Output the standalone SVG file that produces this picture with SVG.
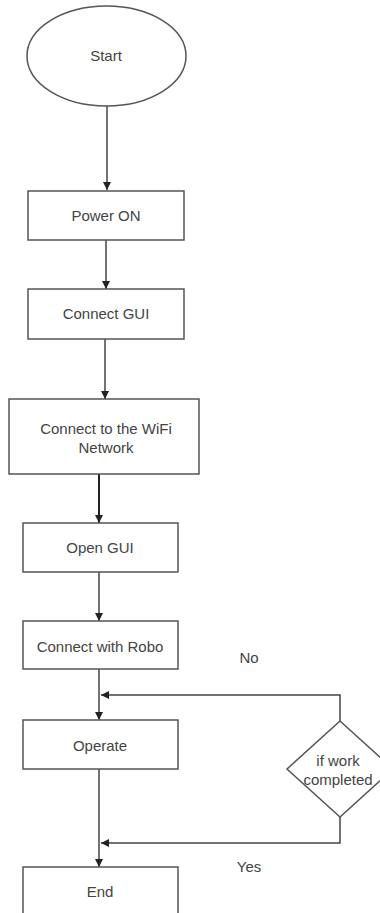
<svg xmlns="http://www.w3.org/2000/svg" width="380" height="913" viewBox="0 0 380 913">
<style>
.n{fill:#fff;stroke:#555;stroke-width:1.5}
.t{font-family:"Liberation Sans",Arial,sans-serif;font-size:15px;fill:#444;text-anchor:middle;dominant-baseline:central}
.c{fill:none;stroke:#444;stroke-width:1.5}
</style>
<defs>
<marker id="a" viewBox="0 0 10 10" refX="10" refY="5" markerWidth="8" markerHeight="8" orient="auto" markerUnits="userSpaceOnUse"><path d="M0,0L10,5L0,10z" fill="#222"/></marker>
</defs>
<rect width="380" height="913" fill="#fff"/>
<g id="connectors">
<path class="c" d="M107,106V190" marker-end="url(#a)"/>
<path class="c" d="M106,240V289" marker-end="url(#a)"/>
<path class="c" d="M105,339V399" marker-end="url(#a)"/>
<path class="c" d="M99,474V523" marker-end="url(#a)" style="stroke:#222;stroke-width:2"/>
<path class="c" d="M99,572V621" marker-end="url(#a)"/>
<path class="c" d="M99,669V720" marker-end="url(#a)"/>
<path class="c" d="M340,721V695H101" marker-end="url(#a)"/>
<path class="c" d="M99,769V867" marker-end="url(#a)"/>
<path class="c" d="M340,817V843H101" marker-end="url(#a)"/>
</g>
<g id="start"><ellipse class="n" cx="106.5" cy="56" rx="79.5" ry="50"/><text class="t" x="106" y="55">Start</text></g>
<g id="power"><rect class="n" x="28" y="191" width="156" height="49"/><text class="t" x="106" y="215">Power ON</text></g>
<g id="gui"><rect class="n" x="28" y="289" width="156" height="50"/><text class="t" x="106" y="313">Connect GUI</text></g>
<g id="wifi"><rect class="n" x="9" y="399" width="190" height="75"/><text class="t" x="106" y="428">Connect to the WiFi</text><text class="t" x="106" y="447">Network</text></g>
<g id="open"><rect class="n" x="23" y="523" width="155" height="49"/><text class="t" x="100" y="547">Open GUI</text></g>
<g id="robo"><rect class="n" x="23" y="621" width="155" height="48"/><text class="t" x="100" y="646">Connect with Robo</text></g>
<g id="operate"><rect class="n" x="23" y="720" width="155" height="49"/><text class="t" x="100" y="745">Operate</text></g>
<g id="decision"><path class="n" d="M340,721L393,769L340,817L287,769Z"/><text class="t" x="338" y="760">if work</text><text class="t" x="338" y="779">completed</text></g>
<g id="end"><rect class="n" x="23" y="867" width="155" height="50"/><text class="t" x="100" y="891">End</text></g>
<text class="t" x="249" y="657">No</text>
<text class="t" x="249" y="866">Yes</text>
</svg>
